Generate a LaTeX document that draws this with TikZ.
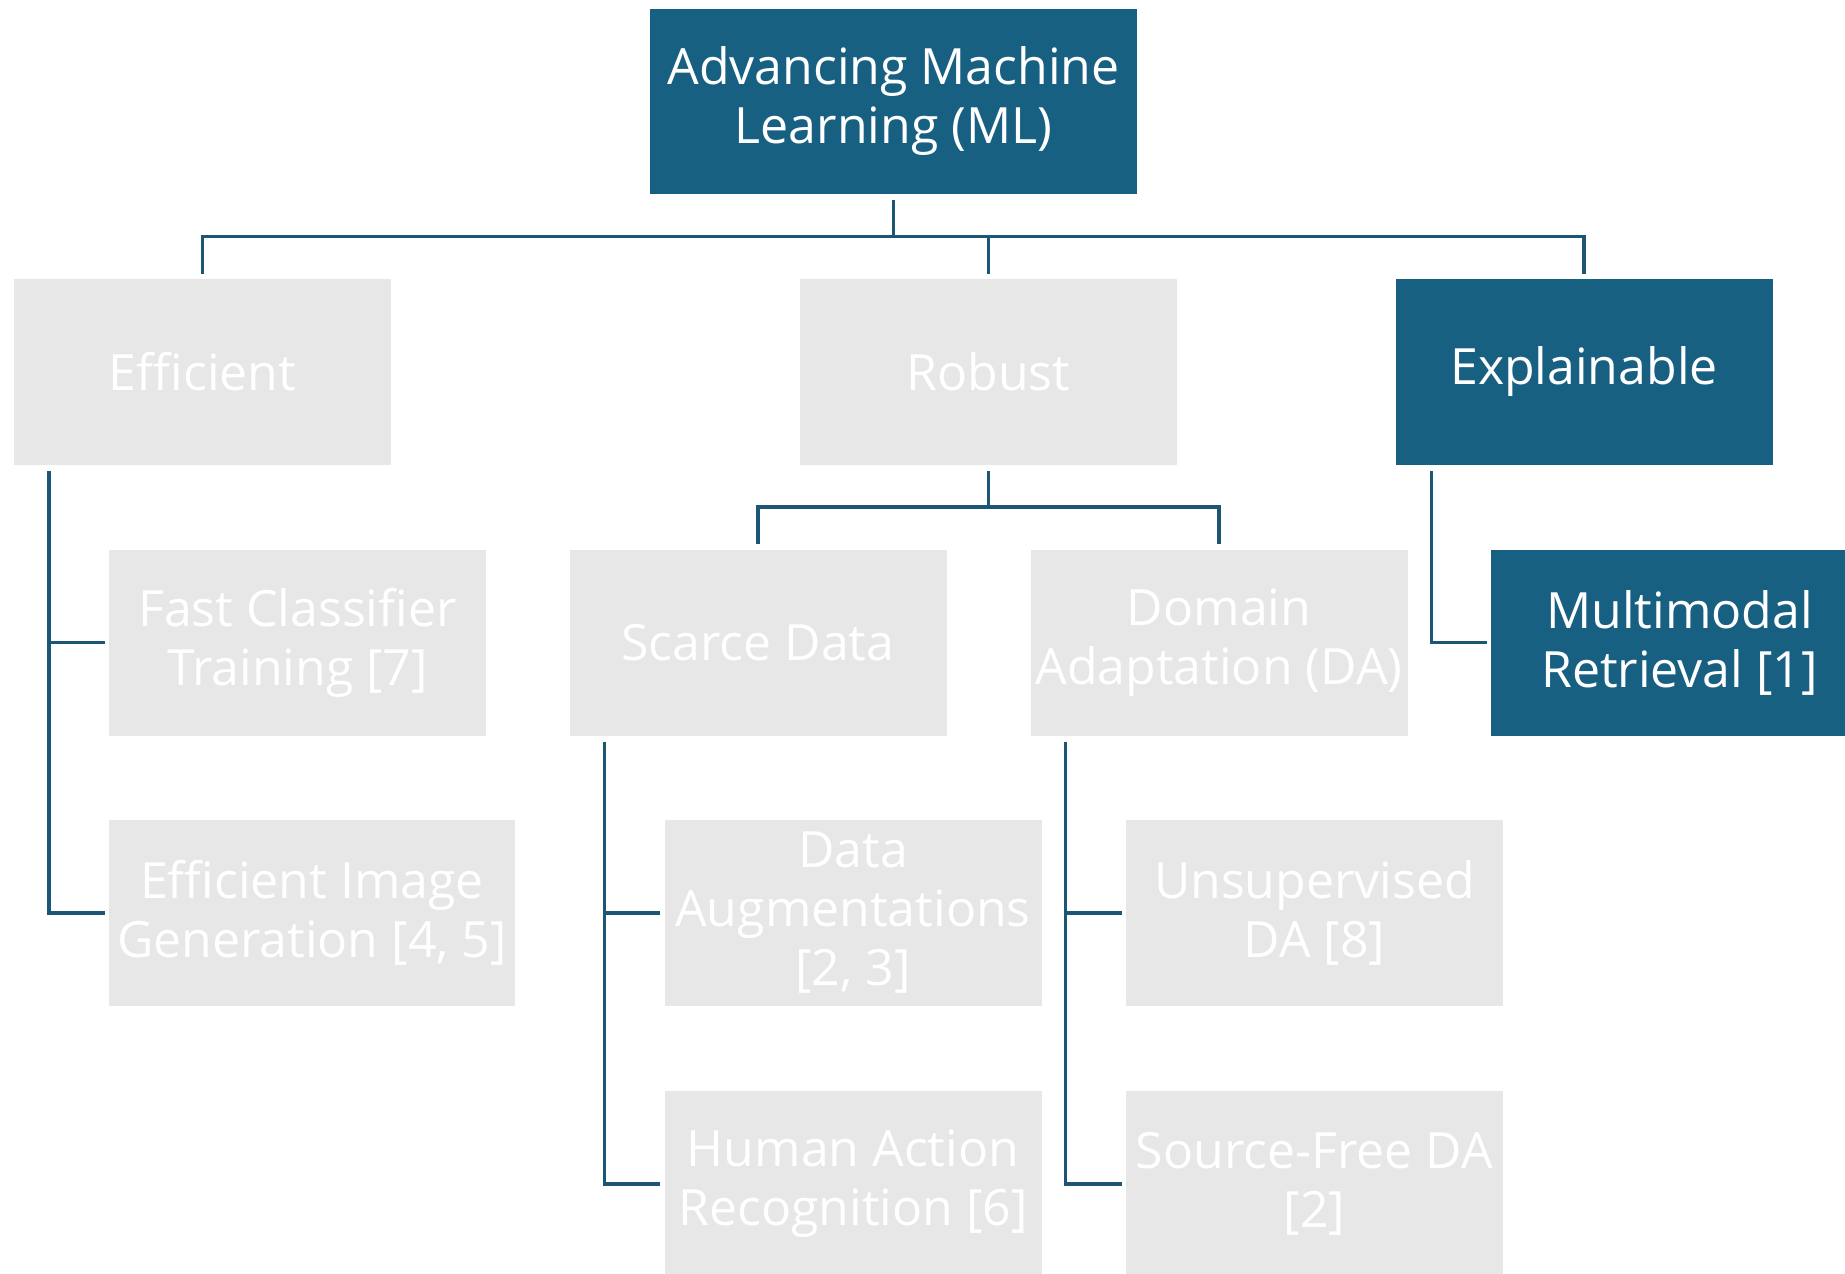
\documentclass[tikz,border=0pt]{standalone}
\usepackage{fontspec}
\setmainfont{Open Sans}
\definecolor{navy}{HTML}{176082}
\definecolor{linec}{HTML}{1B5675}
\definecolor{boxgray}{HTML}{E7E7E7}
\begin{document}
\begin{tikzpicture}[x=1bp,y=-1bp,
  base/.style={inner sep=0pt, minimum width=377bp, minimum height=186bp, align=center,
    text=white, font=\fontsize{50bp}{59bp}\selectfont},
  darkbox/.style={base, fill=navy},
  graybox/.style={base, fill=boxgray},
  conn/.style={draw=linec, line width=3.5bp}]
\useasboundingbox (0,0) rectangle (1845,1273);
\clip (0,0) rectangle (1845,1273);
\node[darkbox, minimum width=487bp, minimum height=185bp] (root) at (893.5,101.5) {Advancing Machine\\Learning (ML)};
\node[graybox] (eff) at (202.5,372) {Efficient};
\node[graybox] (rob) at (988.5,372) {Robust};
\node[darkbox] (expl) at (1584,372) {Explainable};
\node[graybox] (fast) at (297.5,642.5) {Fast Classifier\\Training [7]};
\node[graybox, minimum width=406bp] (gen) at (312,913) {Efficient Image\\Generation [4, 5]};
\node[graybox] (scarce) at (758,642.5) {Scarce Data};
\node[graybox] (domain) at (1219,642.5) {Domain\\Adaptation (DA)};
\node[darkbox] (multi) at (1679.5,642.5) {Multimodal\\Retrieval [1]};
\node[graybox] (aug) at (853,913) {Data\\Augmentations\\{}[2, 3]};
\node[graybox] (human) at (853,1184) {Human Action\\Recognition [6]};
\node[graybox] (unsup) at (1314.5,913) {Unsupervised\\DA [8]};
\node[graybox] (source) at (1314.5,1184) {Source-Free DA\\{}[2]};
% top level connectors
\draw[conn, shorten <=6bp, shorten >=5bp] (root.south) -- ++(0,42.5) -| (eff.north);
\draw[conn, shorten <=6bp, shorten >=5bp] (root.south) -- ++(0,42.5) -| (rob.north);
\draw[conn, shorten <=6bp, shorten >=5bp] (root.south) -- ++(0,42.5) -| (expl.north);
% robust children
\draw[conn, shorten <=6bp, shorten >=5bp] (rob.south) -- ++(0,42) -| (scarce.north);
\draw[conn, shorten <=6bp, shorten >=5bp] (rob.south) -- ++(0,42) -| (domain.north);
% side elbows
\draw[conn, shorten >=4bp] ([xshift=35bp,yshift=-6bp]eff.south west) |- (fast.west);
\draw[conn, shorten >=4bp] ([xshift=35bp,yshift=-6bp]eff.south west) |- (gen.west);
\draw[conn, shorten >=4bp] ([xshift=36bp,yshift=-6bp]expl.south west) |- (multi.west);
\draw[conn, shorten >=4bp] ([xshift=35bp,yshift=-6bp]scarce.south west) |- (aug.west);
\draw[conn, shorten >=4bp] ([xshift=35bp,yshift=-6bp]scarce.south west) |- (human.west);
\draw[conn, shorten >=4bp] ([xshift=35bp,yshift=-6bp]domain.south west) |- (unsup.west);
\draw[conn, shorten >=4bp] ([xshift=35bp,yshift=-6bp]domain.south west) |- (source.west);
\end{tikzpicture}
\end{document}
